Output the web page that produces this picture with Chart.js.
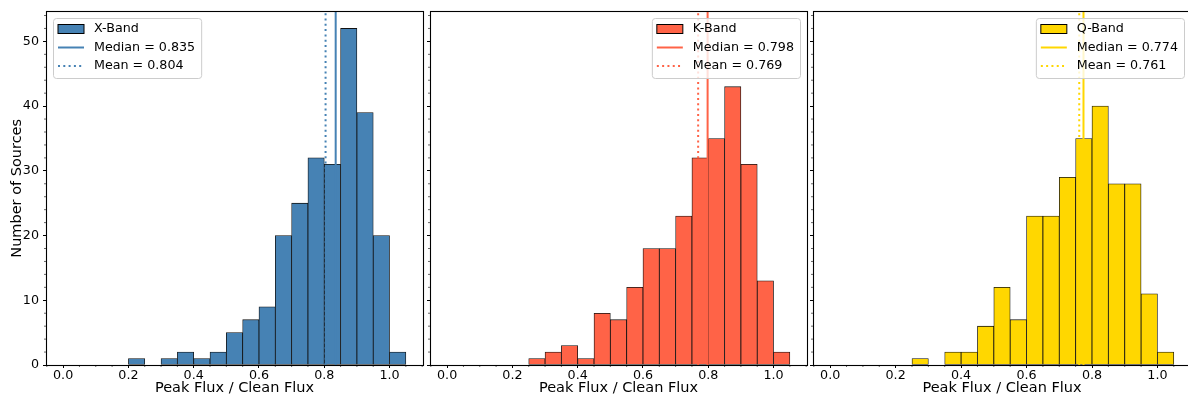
<!DOCTYPE html>
<html>
<head>
<meta charset="utf-8">
<script src="https://cdn.jsdelivr.net/npm/chart.js@4.4.1/dist/chart.umd.min.js"></script>
<style>
  html, body { margin: 0; padding: 0; background: #fff; }
  body { position: relative; width: 1188px; height: 397px; overflow: hidden; }
  canvas { position: absolute; top: 0; }
</style>
</head>
<body>
<canvas id="xband" width="430" height="397" style="left:0px"></canvas>
<canvas id="kband" width="389" height="397" style="left:424px"></canvas>
<canvas id="qband" width="390" height="397" style="left:807px"></canvas>
<script>
// histogram bins (left edges), width 0.05
const binLefts = [0.00, 0.05, 0.10, 0.15, 0.20, 0.25, 0.30, 0.35, 0.40, 0.45, 0.50,
                  0.55, 0.60, 0.65, 0.70, 0.75, 0.80, 0.85, 0.90, 0.95, 1.00];
const binWidth = 0.05;

const xBandCounts = [0, 0, 0, 0, 1, 0, 1, 2, 1, 2, 5, 7, 9, 20, 25, 32, 31, 52, 39, 20, 2];
const kBandCounts = [0, 0, 0, 0, 0, 1, 2, 3, 1, 8, 7, 12, 18, 18, 23, 32, 35, 43, 31, 13, 2];
const qBandCounts = [0, 0, 0, 0, 0, 1, 0, 2, 2, 6, 12, 7, 23, 23, 29, 35, 40, 28, 28, 11, 2];

const bandNames = ["X-Band", "K-Band", "Q-Band"];
const bandColors = ["#4682B4", "#FF6347", "#FFD700"];
const medians = [0.835, 0.798, 0.774];
const means = [0.804, 0.769, 0.761];

const xTicks = [0.0, 0.2, 0.4, 0.6, 0.8, 1.0];
const yTicks = [0, 10, 20, 30, 40, 50];
const xRange = [-0.0525, 1.1025];
const yMax = 54.6;

const FONT = "DejaVu Sans";
Chart.defaults.font.family = FONT;

// frame (all four spines) + minor ticks
const frameAndMinor = {
  id: "frameAndMinor",
  afterDatasetsDraw(chart) {
    const { ctx, chartArea: a, scales } = chart;
    ctx.save();
    ctx.strokeStyle = "#000";
    ctx.lineWidth = 0.6;
    ctx.beginPath();
    for (let v = -0.05; v < 1.11; v += 0.05) {
      const r = Math.round(v * 100);
      if (r % 20 === 0) continue;
      const px = scales.x.getPixelForValue(v);
      ctx.moveTo(px, a.bottom);
      ctx.lineTo(px, a.bottom + 2);
    }
    for (let v = 2; v < yMax; v += 2) {
      if (v % 10 === 0) continue;
      const py = scales.y.getPixelForValue(v);
      ctx.moveTo(a.left, py);
      ctx.lineTo(a.left - 2, py);
    }
    ctx.stroke();
    ctx.lineWidth = 1.1;
    const l = Math.floor(a.left) + 0.5, t = Math.floor(a.top) + 0.5;
    const r = Math.floor(a.right) + 0.5, b = Math.floor(a.bottom) + 0.5;
    ctx.strokeRect(l, t, r - l, b - t);
    ctx.restore();
  }
};

// matplotlib-style legend drawn inside the plot area
const bandLegend = {
  id: "bandLegend",
  afterDraw(chart, args, opts) {
    const { ctx, chartArea: a } = chart;
    const items = chart.data.datasets;
    ctx.save();
    ctx.font = "12.7px " + FONT;
    const textW = Math.max(...items.map(d => ctx.measureText(d.label).width));
    const w = 41 + textW + 6;
    const h = 60;
    const left = opts.side === "left" ? Math.floor(a.left) + 7 : Math.floor(a.right) - 7 - w;
    const top = Math.floor(a.top) + 7;
    ctx.beginPath();
    ctx.roundRect(left + 0.5, top + 0.5, w, h, 3);
    ctx.fillStyle = "rgba(255,255,255,0.8)";
    ctx.fill();
    ctx.strokeStyle = "#cccccc";
    ctx.lineWidth = 1;
    ctx.stroke();
    items.forEach((d, k) => {
      const cy = top + 11 + k * 18.5;
      const hx = left + 5;
      if (d.type === "line") {
        ctx.beginPath();
        ctx.setLineDash(d.borderDash || []);
        ctx.strokeStyle = d.borderColor;
        ctx.lineWidth = 2;
        ctx.moveTo(hx, cy);
        ctx.lineTo(hx + 26, cy);
        ctx.stroke();
        ctx.setLineDash([]);
      } else {
        ctx.fillStyle = d.backgroundColor;
        ctx.fillRect(hx, cy - 4.5, 26, 9);
        ctx.strokeStyle = "#000";
        ctx.lineWidth = 1;
        ctx.strokeRect(hx, cy - 4.5, 26, 9);
      }
      ctx.fillStyle = "#000";
      ctx.textBaseline = "middle";
      ctx.textAlign = "left";
      ctx.fillText(d.label, left + 41, cy);
    });
    ctx.restore();
  }
};

function makePanel(canvasId, idx, counts, yWidth, rightPad, side) {
  const color = bandColors[idx];
  const first = idx === 0;
  return new Chart(document.getElementById(canvasId), {
    type: "bar",
    data: {
      datasets: [
        {
          label: bandNames[idx],
          data: binLefts.map((b, j) => ({ x: b + binWidth / 2, y: counts[j] })),
          backgroundColor: color,
          borderColor: "#111",
          borderWidth: 0.8,
          borderSkipped: false,
          barPercentage: 1,
          categoryPercentage: 1,
          order: 2
        },
        {
          type: "line",
          label: "Median = " + medians[idx].toFixed(3),
          data: [{ x: medians[idx], y: 0 }, { x: medians[idx], y: yMax }],
          borderColor: color,
          borderWidth: 2,
          pointRadius: 0,
          fill: false,
          order: 1
        },
        {
          type: "line",
          label: "Mean = " + means[idx].toFixed(3),
          data: [{ x: means[idx], y: 0 }, { x: means[idx], y: yMax }],
          borderColor: color,
          borderWidth: 2,
          borderDash: [2, 3.3],
          pointRadius: 0,
          fill: false,
          order: 1
        }
      ]
    },
    options: {
      responsive: false,
      animation: false,
      layout: { padding: { left: 0, right: rightPad, top: 9, bottom: 0 } },
      plugins: {
        legend: { display: false },
        tooltip: { enabled: false },
        bandLegend: { side: side }
      },
      scales: {
        x: {
          type: "linear",
          offset: false,
          min: xRange[0],
          max: xRange[1],
          afterBuildTicks: s => { s.ticks = xTicks.map(v => ({ value: v })); },
          afterFit: s => { s.height = 32; },
          grid: { display: true, offset: false, drawOnChartArea: false, drawTicks: true, tickLength: 3, color: "#000", lineWidth: 1 },
          border: { display: false },
          ticks: {
            color: "#000",
            font: { size: 12.7 },
            padding: 0,
            maxRotation: 0,
            autoSkip: false,
            callback: v => Number(v).toFixed(1)
          },
          title: {
            display: true,
            text: "Peak Flux / Clean Flux",
            color: "#000",
            font: { size: 14.5 },
            padding: { top: 0, bottom: 0 }
          }
        },
        y: {
          min: 0,
          max: yMax,
          afterBuildTicks: s => { s.ticks = yTicks.map(v => ({ value: v })); },
          afterFit: s => { s.width = yWidth; },
          grid: { display: true, drawOnChartArea: false, drawTicks: true, tickLength: 3, color: "#000", lineWidth: 1 },
          border: { display: false },
          ticks: {
            color: "#000",
            font: { size: 12.7 },
            padding: 4,
            callback: v => (first ? String(v) : "")
          },
          title: {
            display: first,
            text: "Number of Sources",
            color: "#000",
            font: { size: 14.5 },
            padding: { top: 9, bottom: 0 }
          }
        }
      }
    },
    plugins: [frameAndMinor, bandLegend]
  });
}

makePanel("xband", 0, xBandCounts, 46, 7, "left");
makePanel("kband", 1, kBandCounts, 6, 6, "right");
makePanel("qband", 2, qBandCounts, 6, 6, "right");
</script>
</body>
</html>
